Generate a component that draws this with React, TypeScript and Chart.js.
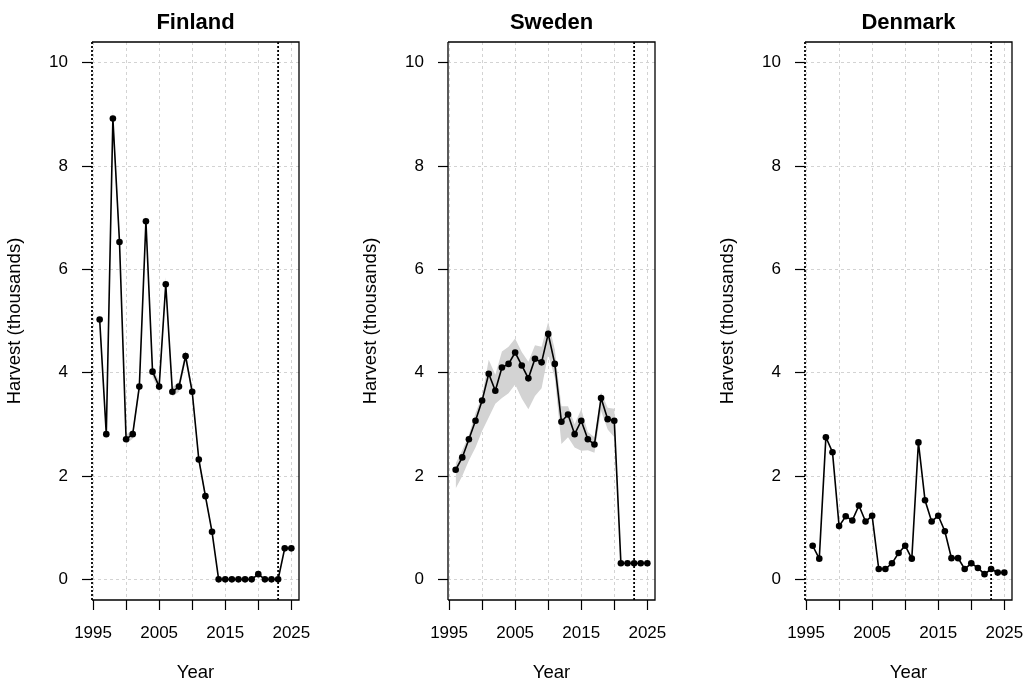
import React, { useEffect, useRef } from "react";
import { Chart, registerables } from "chart.js";

Chart.register(...registerables);

// ---------------- data ----------------
const years = [
  1996, 1997, 1998, 1999, 2000, 2001, 2002, 2003, 2004, 2005,
  2006, 2007, 2008, 2009, 2010, 2011, 2012, 2013, 2014, 2015,
  2016, 2017, 2018, 2019, 2020, 2021, 2022, 2023, 2024, 2025,
];

const finlandHarvest = [
  5.03, 2.81, 8.92, 6.53, 2.71, 2.81, 3.73, 6.93, 4.02, 3.73,
  5.71, 3.63, 3.73, 4.32, 3.63, 2.32, 1.61, 0.92, 0, 0,
  0, 0, 0, 0, 0.1, 0, 0, 0, 0.6, 0.6,
];
const finlandLower = [
  4.9, 2.72, 8.72, 6.38, 2.62, 2.72, 3.63, 6.78, 3.92, 3.63,
  5.57, 3.54, 3.63, 4.22, 3.54, 2.24, 1.55, 0.88, 0, 0,
  0, 0, 0, 0, 0.08, 0, 0, 0, 0.6, 0.6,
];
const finlandUpper = [
  5.16, 2.9, 9.1, 6.68, 2.8, 2.9, 3.83, 7.08, 4.12, 3.83,
  5.85, 3.72, 3.83, 4.42, 3.72, 2.4, 1.67, 0.96, 0, 0,
  0, 0, 0, 0, 0.12, 0, 0, 0, 0.6, 0.6,
];

const swedenHarvest = [
  2.12, 2.36, 2.71, 3.07, 3.46, 3.98, 3.65, 4.1, 4.17, 4.39,
  4.14, 3.89, 4.27, 4.2, 4.75, 4.17, 3.05, 3.19, 2.81, 3.07,
  2.71, 2.61, 3.51, 3.1, 3.07, 0.31, 0.31, 0.31, 0.31, 0.31,
];
const swedenLower = [
  1.76, 2.0, 2.3, 2.55, 2.87, 3.13, 3.4, 3.51, 3.6, 3.77,
  3.5, 3.29, 3.55, 3.7, 4.35, 3.9, 2.62, 2.75, 2.55, 2.49,
  2.5, 2.45, 3.26, 2.9, 2.75, 0.31, 0.31, 0.31, 0.31, 0.31,
];
const swedenUpper = [
  2.24, 2.5, 2.8, 3.22, 3.55, 4.25, 3.96, 4.41, 4.5, 4.66,
  4.4, 4.21, 4.53, 4.5, 4.98, 4.45, 3.35, 3.35, 3.0, 3.29,
  2.85, 2.75, 3.62, 3.32, 3.3, 0.31, 0.31, 0.31, 0.31, 0.31,
];

const denmarkHarvest = [
  0.65, 0.4, 2.75, 2.46, 1.03, 1.22, 1.14, 1.43, 1.12, 1.23,
  0.2, 0.2, 0.31, 0.51, 0.65, 0.4, 2.65, 1.53, 1.12, 1.23,
  0.93, 0.41, 0.41, 0.2, 0.31, 0.22, 0.1, 0.2, 0.13, 0.13,
];

const xTickValues = [1995, 2000, 2005, 2010, 2015, 2020, 2025];
const xTickLabels = ["1995", "", "2005", "", "2015", "", "2025"];
const yTickValues = [0, 2, 4, 6, 8, 10];
const forecastYear = 2023;

// ---------------- styling ----------------
const FONT = '"Liberation Sans", Arial, Helvetica, sans-serif';
const CANVAS_W = 313;
const CANVAS_H = 684;

const framePlugin = {
  id: "rframe",
  afterDraw(chart: any, _args: any, opts: any) {
    const { ctx, chartArea, scales } = chart;
    const { left, right, top, bottom } = chartArea;
    ctx.save();
    ctx.strokeStyle = "#000";
    ctx.lineWidth = 1.3;
    ctx.setLineDash([]);
    ctx.beginPath();
    ctx.moveTo(left, top);
    ctx.lineTo(right, top);
    ctx.lineTo(right, bottom);
    ctx.lineTo(left, bottom);
    ctx.stroke();
    if (opts.dottedLeft) {
      ctx.setLineDash([2, 2]);
      ctx.lineWidth = 1.8;
    }
    ctx.beginPath();
    ctx.moveTo(left, top);
    ctx.lineTo(left, bottom);
    ctx.stroke();
    // forecast divider
    ctx.setLineDash([2, 2]);
    ctx.lineWidth = 1.8;
    const fx = scales.x.getPixelForValue(opts.forecastYear);
    ctx.beginPath();
    ctx.moveTo(fx, top);
    ctx.lineTo(fx, bottom);
    ctx.stroke();
    // panel title
    ctx.setLineDash([]);
    ctx.fillStyle = "#000";
    ctx.font = `bold 22px ${FONT}`;
    ctx.textAlign = "center";
    ctx.textBaseline = "middle";
    ctx.fillText(opts.title, (left + right) / 2, 23);
    ctx.restore();
  },
};

type PanelProps = {
  title: string;
  harvest: number[];
  lower?: number[];
  upper?: number[];
  dottedLeft: boolean;
  left: number;
};

function Panel({ title, harvest, lower, upper, dottedLeft, left }: PanelProps) {
  const ref = useRef<HTMLCanvasElement>(null);

  useEffect(() => {
    if (!ref.current) return;
    const toPts = (arr: number[]) => years.map((yr, i) => ({ x: yr, y: arr[i] }));
    const datasets: any[] = [];
    if (lower && upper) {
      datasets.push({
        label: "lower",
        data: toPts(lower),
        borderWidth: 0,
        pointRadius: 0,
        fill: false,
        order: 3,
      });
      datasets.push({
        label: "upper",
        data: toPts(upper),
        borderWidth: 0,
        pointRadius: 0,
        backgroundColor: "#d3d3d3",
        fill: "-1",
        order: 2,
      });
    }
    datasets.push({
      label: title,
      data: toPts(harvest),
      borderColor: "#000",
      borderWidth: 1.6,
      pointRadius: 3.3,
      pointBackgroundColor: "#000",
      pointBorderColor: "#000",
      pointBorderWidth: 0,
      tension: 0,
      fill: false,
      order: 1,
    });

    const gridCommon = {
      color: "#d3d3d3",
      lineWidth: 1,
      drawTicks: true,
      tickLength: 10,
      tickColor: "#000",
      tickWidth: 1.2,
    };

    const chart = new Chart(ref.current, {
      type: "line",
      data: { datasets },
      plugins: [framePlugin],
      options: {
        responsive: false,
        animation: false,
        devicePixelRatio: 1,
        layout: { padding: { top: 42, right: 14, left: 0, bottom: 0 } },
        plugins: {
          legend: { display: false },
          title: { display: false },
          tooltip: { enabled: false },
          filler: { drawTime: "beforeDatasetsDraw" },
          rframe: { title, dottedLeft, forecastYear },
        } as any,
        scales: {
          x: {
            type: "linear",
            min: 1994.84,
            max: 2026.16,
            afterBuildTicks: (s: any) => {
              s.ticks = xTickValues.map((v) => ({ value: v }));
            },
            afterFit: (s: any) => {
              s.height = 84;
              s.paddingLeft = 0;
              s.paddingRight = 0;
            },
            ticks: {
              autoSkip: false,
              maxRotation: 0,
              minRotation: 0,
              padding: 13,
              color: "#000",
              font: { family: FONT, size: 17 },
              callback: (_v: any, i: number) => xTickLabels[i],
            },
            grid: gridCommon,
            border: { display: false, dash: [3, 3] },
            title: {
              display: true,
              text: "Year",
              color: "#000",
              font: { family: FONT, size: 18.5, lineHeight: 1.2 },
              padding: { top: 0, bottom: 0 },
            },
          },
          y: {
            type: "linear",
            min: -0.4,
            max: 10.4,
            afterBuildTicks: (s: any) => {
              s.ticks = yTickValues.map((v) => ({ value: v }));
            },
            afterFit: (s: any) => {
              s.width = 92;
              s.paddingTop = 0;
              s.paddingBottom = 0;
            },
            ticks: {
              padding: 14,
              color: "#000",
              font: { family: FONT, size: 17 },
              callback: (v: any) => String(v),
            },
            grid: gridCommon,
            border: { display: false, dash: [3, 3] },
            title: {
              display: true,
              text: "Harvest (thousands)",
              color: "#000",
              font: { family: FONT, size: 18.5, lineHeight: 1.2 },
              padding: { top: 4, bottom: 0 },
            },
          },
        },
      } as any,
    });
    return () => chart.destroy();
  }, []);

  return (
    <canvas
      ref={ref}
      width={CANVAS_W}
      height={CANVAS_H}
      style={{ position: "absolute", left, top: 0, width: CANVAS_W, height: CANVAS_H }}
    />
  );
}

export default function App() {
  return (
    <div
      style={{
        position: "absolute",
        left: 0,
        top: 0,
        width: 1024,
        height: 684,
        overflow: "hidden",
        background: "#fff",
      }}
    >
      <Panel title="Finland" harvest={finlandHarvest} lower={finlandLower} upper={finlandUpper} dottedLeft={true} left={0} />
      <Panel title="Sweden" harvest={swedenHarvest} lower={swedenLower} upper={swedenUpper} dottedLeft={false} left={356} />
      <Panel title="Denmark" harvest={denmarkHarvest} dottedLeft={true} left={713} />
    </div>
  );
}
